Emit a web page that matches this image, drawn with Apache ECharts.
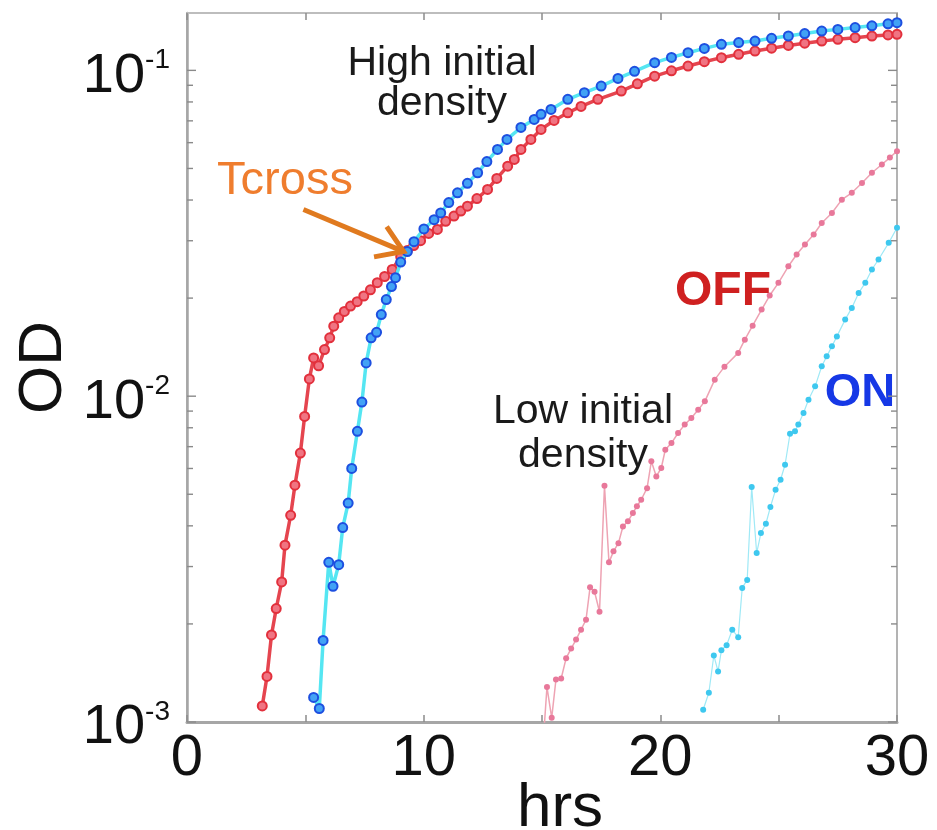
<!DOCTYPE html>
<html><head><meta charset="utf-8">
<script src="https://cdn.jsdelivr.net/npm/echarts@6/dist/echarts.min.js"></script>
<style>html,body{margin:0;padding:0;background:#fff}#c{width:937px;height:830px}</style>
</head><body><div id="c"></div>
<script>
// High initial density, OFF (red)
const hiOffT = [3.18,3.38,3.57,3.77,4.00,4.14,4.38,4.56,4.79,4.97,5.17,5.35,5.56,5.81,6.03,6.20,6.41,6.65,6.91,7.19,7.47,7.75,8.04,8.35,8.67,9.03,9.31,9.58,9.87,10.21,10.58,10.93,11.28,11.57,11.85,12.25,12.70,13.09,13.55,13.83,14.11,14.53,14.96,15.51,16.09,16.65,17.36,18.35,19.03,19.76,20.47,21.17,21.86,22.58,23.31,24.00,24.70,25.41,26.10,26.82,27.50,28.23,28.94,29.62,30.00];
const hiOffV = [0.00112,0.00138,0.00185,0.00223,0.00269,0.00349,0.00431,0.00533,0.00669,0.00867,0.0113,0.0131,0.0124,0.0139,0.0151,0.0164,0.0174,0.0182,0.0189,0.0195,0.0203,0.0212,0.0223,0.0233,0.0245,0.0268,0.0280,0.0290,0.0300,0.0316,0.0325,0.0344,0.0357,0.0370,0.0383,0.0404,0.0431,0.0466,0.0508,0.0533,0.0572,0.0614,0.0659,0.0702,0.0741,0.0775,0.0815,0.0864,0.0909,0.0960,0.0997,0.1031,0.1063,0.1094,0.1120,0.1146,0.1170,0.1193,0.1212,0.1230,0.1245,0.1260,0.1274,0.1285,0.1290];
// High initial density, ON (blue)
const hiOnT = [5.35,5.59,5.75,5.99,6.17,6.41,6.58,6.81,6.96,7.20,7.39,7.57,7.78,8.01,8.21,8.42,8.64,8.81,9.03,9.31,9.59,10.01,10.44,10.72,11.06,11.43,11.85,12.28,12.67,13.12,13.52,14.11,14.67,14.96,15.38,16.09,16.79,17.50,18.21,18.91,19.76,20.47,21.17,21.86,22.58,23.31,24.00,24.70,25.41,26.10,26.82,27.50,28.23,28.94,29.62,30.00];
const hiOnV = [0.00119,0.00110,0.00178,0.00309,0.00261,0.00304,0.00395,0.00470,0.00600,0.00780,0.00959,0.01265,0.0151,0.0157,0.0178,0.0198,0.0217,0.0231,0.0258,0.0278,0.0298,0.0326,0.0348,0.0365,0.0393,0.0421,0.0450,0.0485,0.0525,0.0572,0.0614,0.0668,0.0707,0.0733,0.0759,0.0815,0.0854,0.0895,0.0945,0.0993,0.1056,0.1096,0.1133,0.1168,0.1202,0.1217,0.1230,0.1254,0.1275,0.1297,0.1320,0.1336,0.1353,0.1370,0.1390,0.1401];
// Low initial density, OFF (pink)
const loOffT = [15.10,15.21,15.41,15.59,15.81,16.02,16.23,16.44,16.65,16.86,17.03,17.22,17.43,17.64,17.83,18.02,18.23,18.42,18.63,18.84,19.01,19.19,19.44,19.62,19.83,20.04,20.21,20.47,20.75,21.03,21.31,21.60,21.88,22.30,22.71,23.29,23.57,23.90,24.28,24.62,24.99,25.41,25.76,26.11,26.48,26.82,27.25,27.67,28.09,28.52,28.94,29.36,29.70,30.00];
const loOffV = [0.00098,0.00128,0.00103,0.00135,0.00136,0.00157,0.00168,0.00179,0.00192,0.00206,0.00259,0.00251,0.00218,0.00531,0.00309,0.00334,0.00354,0.00398,0.00413,0.00438,0.00459,0.00481,0.00522,0.00631,0.00567,0.00602,0.00685,0.00718,0.00771,0.00818,0.00857,0.00909,0.00964,0.01124,0.01232,0.01358,0.01491,0.01646,0.01844,0.02037,0.02228,0.02504,0.02721,0.02920,0.03134,0.0340,0.0365,0.0401,0.0421,0.0451,0.0485,0.0514,0.0540,0.0565];
// Low initial density, ON (cyan)
const loOnT = [21.81,22.05,22.26,22.44,22.58,22.80,23.04,23.29,23.46,23.67,23.86,24.07,24.25,24.46,24.65,24.87,25.08,25.27,25.48,25.69,25.83,26.05,26.26,26.54,26.82,27.03,27.25,27.46,27.81,28.09,28.38,28.66,28.94,29.22,29.65,30.00];
const loOnV = [0.00109,0.00123,0.00160,0.00143,0.00166,0.00172,0.00192,0.00182,0.00258,0.00273,0.00526,0.00330,0.00380,0.00406,0.00457,0.00516,0.00554,0.00616,0.00767,0.00780,0.00818,0.00888,0.00975,0.01072,0.01236,0.01325,0.01422,0.01526,0.01718,0.01866,0.02075,0.02228,0.02448,0.02627,0.02955,0.03287];

const xTickLabels = [0, 10, 20, 30];
const yTickExponents = [-3, -2, -1];
const majorTickValues = [0.001, 0.01, 0.1];
const minorTickValues = [0.002,0.003,0.004,0.005,0.006,0.007,0.008,0.009,0.02,0.03,0.04,0.05,0.06,0.07,0.08,0.09];
const tcrossArrow = [4.92, 0.0374, 9.15, 0.0278];

const FONT = '"Liberation Sans", Arial, Helvetica, sans-serif';
function zip(t, v) { return t.map((x, i) => [x, v[i]]); }

const chart = echarts.init(document.getElementById('c'), null, { renderer: 'canvas' });
const tickStyle = { color: '#8c8c8c', width: 1.5 };

// tick marks drawn through the axis scale (value -> pixel via api.coord)
function tickSeries(values, xVal, dir, len) {
  return {
    type: 'custom', coordinateSystem: 'cartesian2d', silent: true, z: 20, clip: false,
    data: values.map(v => [xVal, v]),
    renderItem: (params, api) => {
      const p = api.coord([api.value(0), api.value(1)]);
      return { type: 'line', shape: { x1: p[0], y1: p[1], x2: p[0] + dir * len, y2: p[1] },
               style: { stroke: '#8a8a8a', lineWidth: 1.4 } };
    }
  };
}

const option = {
  animation: false,
  backgroundColor: '#ffffff',
  grid: { left: 187, right: 40, top: 13, bottom: 108, containLabel: false, outerBoundsMode: 'none',
          show: true, borderColor: '#b3b3b3', borderWidth: 2, backgroundColor: 'transparent' },
  xAxis: [
    {
      type: 'value', min: 0, max: 30, interval: 5, position: 'bottom',
      axisLine: { show: true, onZero: false, lineStyle: { color: '#a6a6a6', width: 3 } },
      axisTick: { show: true, inside: true, length: 7, lineStyle: tickStyle },
      splitLine: { show: false },
      axisLabel: {
        fontFamily: FONT, fontSize: 58, color: '#111', margin: 8,
        formatter: v => xTickLabels.includes(v) ? String(v) : ''
      },
      name: 'hrs', nameLocation: 'middle', nameGap: 56, nameMoveOverlap: false,
      nameTextStyle: { fontFamily: FONT, fontSize: 62, color: '#111', padding: [0, 0, 0, 36] }
    },
    {
      type: 'value', min: 0, max: 30, interval: 5, position: 'top',
      axisLine: { show: true, onZero: false, lineStyle: { color: '#bdbdbd', width: 2 } },
      axisTick: { show: true, inside: true, length: 7, lineStyle: tickStyle },
      axisLabel: { show: false }, splitLine: { show: false }
    }
  ],
  yAxis: [
    {
      type: 'log', logBase: 10, min: 0.001, max: 0.15, position: 'left',
      axisLine: { show: true, lineStyle: { color: '#a6a6a6', width: 2.5 } },
      axisTick: { show: false },
      splitLine: { show: false },
      axisLabel: {
        margin: 17, padding: [12, 0, 0, 0],
        formatter: v => {
          const e = Math.log10(v), r = Math.round(e);
          if (Math.abs(e - r) > 1e-6 || !yTickExponents.includes(r)) return '';
          return '{b|10}{s|' + r + '}';
        },
        rich: {
          b: { fontFamily: FONT, fontSize: 56, color: '#111', lineHeight: 60 },
          s: { fontFamily: FONT, fontSize: 28, color: '#111', lineHeight: 30, verticalAlign: 'top' }
        }
      },
      name: 'OD', nameLocation: 'middle', nameGap: 112, nameMoveOverlap: false,
      nameTextStyle: { fontFamily: FONT, fontSize: 62, color: '#111' }
    }
  ],
  series: [
    tickSeries(majorTickValues, 0, 1, 9),
    tickSeries(majorTickValues, 30, -1, 9),
    tickSeries(minorTickValues, 0, 1, 6),
    tickSeries(minorTickValues, 30, -1, 6),
    {
      type: 'line', name: 'High OFF', data: zip(hiOffT, hiOffV), z: 3, clip: true,
      symbol: 'circle', symbolSize: 9, showSymbol: true, showAllSymbol: true,
      lineStyle: { color: '#e5454f', width: 3.5 },
      itemStyle: { color: '#f07482', borderColor: '#e2303c', borderWidth: 2 },
      emphasis: { disabled: true }
    },
    {
      type: 'line', name: 'High ON', data: zip(hiOnT, hiOnV), z: 4, clip: true,
      symbol: 'circle', symbolSize: 9, showSymbol: true, showAllSymbol: true,
      lineStyle: { color: '#55e6f2', width: 3.5 },
      itemStyle: { color: '#42a2f5', borderColor: '#1d4fe0', borderWidth: 2 },
      emphasis: { disabled: true }
    },
    {
      type: 'line', name: 'Low OFF', data: zip(loOffT, loOffV), z: 3, clip: true,
      symbol: 'circle', symbolSize: 6, showSymbol: true, showAllSymbol: true,
      lineStyle: { color: '#eea3b3', width: 1.5 },
      itemStyle: { color: '#e8789a' },
      emphasis: { disabled: true }
    },
    {
      type: 'line', name: 'Low ON', data: zip(loOnT, loOnV), z: 3, clip: true,
      symbol: 'circle', symbolSize: 6, showSymbol: true, showAllSymbol: true,
      lineStyle: { color: '#9fe9f6', width: 1.2 },
      itemStyle: { color: '#3ec8ef' },
      emphasis: { disabled: true }
    },
    {
      type: 'custom', name: 'Tcross arrow', coordinateSystem: 'cartesian2d', silent: true, z: 6,
      dimensions: ['x0', 'y0', 'x1', 'y1'],
      encode: { x: [0, 2], y: [1, 3] },
      data: [tcrossArrow],
      renderItem: (params, api) => {
        const a = api.coord([api.value(0), api.value(1)]);
        const b = api.coord([api.value(2), api.value(3)]);
        const ang = Math.atan2(b[1] - a[1], b[0] - a[0]);
        const L = 30, sp = 33 * Math.PI / 180;
        const h1 = [b[0] - L * Math.cos(ang - sp), b[1] - L * Math.sin(ang - sp)];
        const h2 = [b[0] - L * Math.cos(ang + sp), b[1] - L * Math.sin(ang + sp)];
        const st = { stroke: '#e07a1f', lineWidth: 5, fill: null };
        return { type: 'group', children: [
          { type: 'line', shape: { x1: a[0], y1: a[1], x2: b[0] - 3 * Math.cos(ang), y2: b[1] - 3 * Math.sin(ang) }, style: st },
          { type: 'polyline', shape: { points: [h1, b, h2] }, style: st }
        ] };
      }
    }
  ],
  graphic: [
    { type: 'text', x: 442, y: 84, z: 10, style: { text: 'High initial\ndensity', align: 'center', verticalAlign: 'middle', font: '41px ' + FONT, lineHeight: 40, fill: '#1a1a1a' } },
    { type: 'text', x: 285, y: 181, z: 10, style: { text: 'Tcross', align: 'center', verticalAlign: 'middle', font: '47px ' + FONT, fill: '#ef7d2e' } },
    { type: 'text', x: 583, y: 434, z: 10, style: { text: 'Low initial\ndensity', align: 'center', verticalAlign: 'middle', font: '41px ' + FONT, lineHeight: 44, fill: '#1a1a1a' } },
    { type: 'text', x: 723, y: 292, z: 10, style: { text: 'OFF', align: 'center', verticalAlign: 'middle', font: 'bold 48px ' + FONT, fill: '#cf2020' } },
    { type: 'text', x: 860, y: 393, z: 10, style: { text: 'ON', align: 'center', verticalAlign: 'middle', font: 'bold 47px ' + FONT, fill: '#1638e6' } }
  ]
};
chart.setOption(option);
</script>
</body></html>
